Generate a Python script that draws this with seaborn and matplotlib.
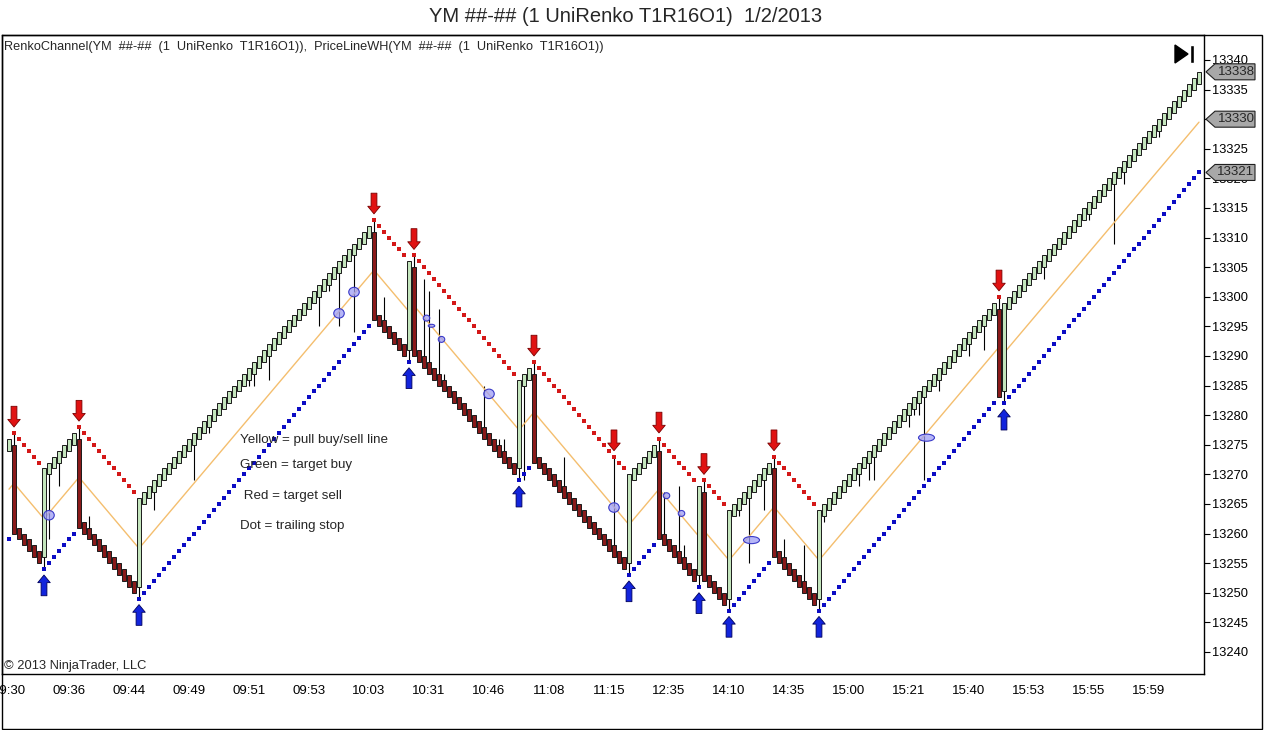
import numpy as np
import matplotlib
matplotlib.use('Agg')
import matplotlib.pyplot as plt
import matplotlib.transforms as mtransforms
from matplotlib.patches import Ellipse, Polygon, Rectangle
import seaborn as sns

# closing price of every UniRenko bar, left to right
closes = [
    13276, 13260, 13259, 13258, 13257, 13256, 13255, 13271, 13272, 13273, 13274, 13275,
    13276, 13277, 13261, 13260, 13259, 13258, 13257, 13256, 13255, 13254, 13253, 13252,
    13251, 13250, 13266, 13267, 13268, 13269, 13270, 13271, 13272, 13273, 13274, 13275,
    13276, 13277, 13278, 13279, 13280, 13281, 13282, 13283, 13284, 13285, 13286, 13287,
    13288, 13289, 13290, 13291, 13292, 13293, 13294, 13295, 13296, 13297, 13298, 13299,
    13300, 13301, 13302, 13303, 13304, 13305, 13306, 13307, 13308, 13309, 13310, 13311,
    13312, 13296, 13295, 13294, 13293, 13292, 13291, 13290, 13306, 13290, 13289, 13288,
    13287, 13286, 13285, 13284, 13283, 13282, 13281, 13280, 13279, 13278, 13277, 13276,
    13275, 13274, 13273, 13272, 13271, 13270, 13286, 13287, 13288, 13272, 13271, 13270,
    13269, 13268, 13267, 13266, 13265, 13264, 13263, 13262, 13261, 13260, 13259, 13258,
    13257, 13256, 13255, 13254, 13270, 13271, 13272, 13273, 13274, 13275, 13259, 13258,
    13257, 13256, 13255, 13254, 13253, 13252, 13268, 13252, 13251, 13250, 13249, 13248,
    13264, 13265, 13266, 13267, 13268, 13269, 13270, 13271, 13272, 13256, 13255, 13254,
    13253, 13252, 13251, 13250, 13249, 13248, 13264, 13265, 13266, 13267, 13268, 13269,
    13270, 13271, 13272, 13273, 13274, 13275, 13276, 13277, 13278, 13279, 13280, 13281,
    13282, 13283, 13284, 13285, 13286, 13287, 13288, 13289, 13290, 13291, 13292, 13293,
    13294, 13295, 13296, 13297, 13298, 13299, 13283, 13299, 13300, 13301, 13302, 13303,
    13304, 13305, 13306, 13307, 13308, 13309, 13310, 13311, 13312, 13313, 13314, 13315,
    13316, 13317, 13318, 13319, 13320, 13321, 13322, 13323, 13324, 13325, 13326, 13327,
    13328, 13329, 13330, 13331, 13332, 13333, 13334, 13335, 13336, 13337, 13338,
]

# long shadows (bar index -> price)
wick_lows = {8: 13259, 10: 13268, 29: 13264, 37: 13269, 40: 13277, 48: 13285, 49: 13285,
             52: 13286, 62: 13295, 64: 13301, 66: 13295, 69: 13294, 103: 13269, 146: 13263,
             148: 13255, 151: 13264, 163: 13262, 170: 13268, 172: 13269, 173: 13269,
             180: 13278, 181: 13280, 182: 13280, 183: 13269, 186: 13284, 192: 13290,
             195: 13291, 207: 13303, 216: 13313, 221: 13309, 223: 13319, 230: 13327}
wick_highs = {16: 13263, 75: 13300, 83: 13303, 84: 13301, 86: 13298, 87: 13287, 95: 13285,
              97: 13276, 98: 13276, 99: 13276, 111: 13273, 121: 13273, 131: 13267,
              134: 13268, 135: 13258, 155: 13259, 159: 13258}

red_arrow_bars = [1, 14, 73, 81, 105, 121, 130, 139, 153, 198]
blue_arrow_bars = [7, 26, 80, 102, 124, 138, 144, 162, 199]

ellipse_bars = [8, 66, 69, 83.5, 84.5, 86.5, 96, 121, 131.5, 134.5, 148.5, 183.5]
ellipse_prices = [13263.1, 13297.2, 13300.8, 13296.4, 13295.1, 13292.8, 13283.6, 13264.4,
                  13266.4, 13263.4, 13258.9, 13276.2]

time_labels = ['09:30', '09:36', '09:44', '09:49', '09:51', '09:53', '10:03', '10:31',
               '10:46', '11:08', '11:15', '12:35', '14:10', '14:35', '15:00', '15:21',
               '15:40', '15:53', '15:55', '15:59']
price_marks = [13338, 13330, 13321]

legend_lines = ['Yellow = pull buy/sell line', 'Green = target buy',
                ' Red = target sell', 'Dot = trailing stop']

# --- renko construction / channel ---
c = np.array(closes, dtype=float)
n = len(c)
x = np.arange(n)
prev = np.r_[c[0] - 1, c[:-1]]
d = np.sign(c - prev)
prev_d = np.r_[d[0], d[:-1]]
rev = d != prev_d
opens = np.where(rev, c - 15 * d, c - 2 * d)
hi = np.maximum(opens, c)
lo = np.minimum(opens, c)
hi = np.where(rev & (d < 0), c + 17, hi)
lo = np.where(rev & (d > 0), c - 17, lo)
for i, v in wick_highs.items():
    hi[i] = max(hi[i], v)
for i, v in wick_lows.items():
    lo[i] = min(lo[i], v)
stop = np.where(d > 0, c - 17, c + 17)
mid = c - 8.5 * d

sns.set_style('white')
plt.rcParams['font.family'] = ['Liberation Sans', 'DejaVu Sans']

W, H = 1264, 730
fig = plt.figure(figsize=(W / 100, H / 100), dpi=100)
ax = fig.add_axes([2 / W, 1 - 674 / H, 1202 / W, 639 / H])

ax.vlines(x, lo, hi, color='black', linewidth=0.8, zorder=2)
sns.lineplot(x=x, y=mid, color='#f4be6e', linewidth=1, ax=ax, zorder=2.5)

up = d > 0
ax.bar(x[up], (c - opens)[up], bottom=opens[up], width=0.64, color='#c4e6bd',
       edgecolor='#1a1a1a', linewidth=0.7, zorder=3)
ax.bar(x[~up], (c - opens)[~up], bottom=opens[~up], width=0.64, color='#8a1a1a',
       edgecolor='#1a1a1a', linewidth=0.7, zorder=3)

sns.scatterplot(x=x[up], y=stop[up], marker='s', s=8, color='#0c0cc4', linewidth=0,
                ax=ax, zorder=4, legend=False)
sns.scatterplot(x=x[~up], y=stop[~up], marker='s', s=8, color='#d41818', linewidth=0,
                ax=ax, zorder=4, legend=False)

for bx, by in zip(ellipse_bars, ellipse_prices):
    big = bx in (148.5, 183.5)
    small = bx in (83.5, 84.5, 86.5, 131.5, 134.5)
    w = 3.2 if big else (1.3 if small else 2.1)
    h = 1.2 if big else (1.0 if small else 1.6)
    if bx == 84.5:
        h = 0.5
    ax.add_patch(Ellipse((bx, by), w, h, facecolor=(0.62, 0.62, 0.96, 0.75),
                         edgecolor='#3a3ac8', linewidth=0.8, zorder=5))

arrow_style = 'simple,head_length=0.55,head_width=0.9,tail_width=0.42'
for b in red_arrow_bars:
    ax.annotate('', xy=(b, stop[b] + 1.0), xytext=(b, stop[b] + 4.5),
                arrowprops=dict(arrowstyle=arrow_style, fc='#e01212', ec='#7a0000',
                                lw=0.6, mutation_scale=10, shrinkA=0, shrinkB=0), zorder=6)
for b in blue_arrow_bars:
    ax.annotate('', xy=(b, stop[b] - 1.0), xytext=(b, stop[b] - 4.5),
                arrowprops=dict(arrowstyle=arrow_style, fc='#1224dc', ec='#00005a',
                                lw=0.6, mutation_scale=10, shrinkA=0, shrinkB=0), zorder=6)

ax.set_xlim(-1.4, 239)
ax.set_ylim(13236.28, 13344.22)
ax.yaxis.tick_right()
ax.set_yticks(np.arange(13240, 13341, 5))
ax.set_xticks(np.arange(0, n, 12)[:len(time_labels)])
ax.set_xticklabels(time_labels)
ax.tick_params(axis='y', direction='out', length=4, width=0.8, labelsize=9.3, pad=2,
               colors='black')
ax.tick_params(axis='x', direction='out', length=4, width=0.8, labelsize=9.5, pad=4,
               colors='black')
for s in ax.spines.values():
    s.set_color('black')
    s.set_linewidth(1)
ax.set_xlabel('')
ax.set_ylabel('')

# last-value tags on the price axis
trans = mtransforms.blended_transform_factory(ax.transAxes, ax.transData)
px = 1 / 1202
ph = 8 / 5.92
for p in price_marks:
    ax.add_artist(Polygon([(1 + 2 * px, p), (1 + 11 * px, p + ph), (1 + 51 * px, p + ph),
                           (1 + 51 * px, p - ph), (1 + 11 * px, p - ph)], closed=True,
                          facecolor='#a8a8a8', edgecolor='#202020', linewidth=0.8,
                          transform=trans, clip_on=False, zorder=6))
    ax.text(1 + 32 * px, p, str(p), transform=trans, ha='center', va='center',
            fontsize=9.5, zorder=7, clip_on=False)

# play / go-to-end button
def fp(xp, yp):
    return (xp / W, 1 - yp / H)

fig.add_artist(Polygon([fp(1175, 45), fp(1175, 63), fp(1188, 54)], closed=True,
                       facecolor='black', edgecolor='black', transform=fig.transFigure))
fig.add_artist(Rectangle(fp(1190, 63), 4 / W, 18 / H, facecolor='black',
                         transform=fig.transFigure))
fig.add_artist(Rectangle(fp(2, 729), 1260 / W, 694 / H, fill=False, edgecolor='black',
                         linewidth=1, transform=fig.transFigure))

fig.text(626 / W, 1 - 16 / H, 'YM ##-## (1 UniRenko T1R16O1)  1/2/2013', ha='center',
         va='center', fontsize=14.5)
fig.text(4 / W, 1 - 47 / H,
         'RenkoChannel(YM  ##-##  (1  UniRenko  T1R16O1)),  PriceLineWH(YM  ##-##  (1  UniRenko  T1R16O1))',
         ha='left', va='center', fontsize=9.15)
fig.text(4 / W, 1 - 666 / H, '\u00a9 2013 NinjaTrader, LLC', ha='left', va='center',
         fontsize=9.3)
for txt, yp in zip(legend_lines, [440, 465, 496, 526]):
    fig.text(240 / W, 1 - yp / H, txt, ha='left', va='center', fontsize=9.6)

fig.savefig('out.png', dpi=100)
